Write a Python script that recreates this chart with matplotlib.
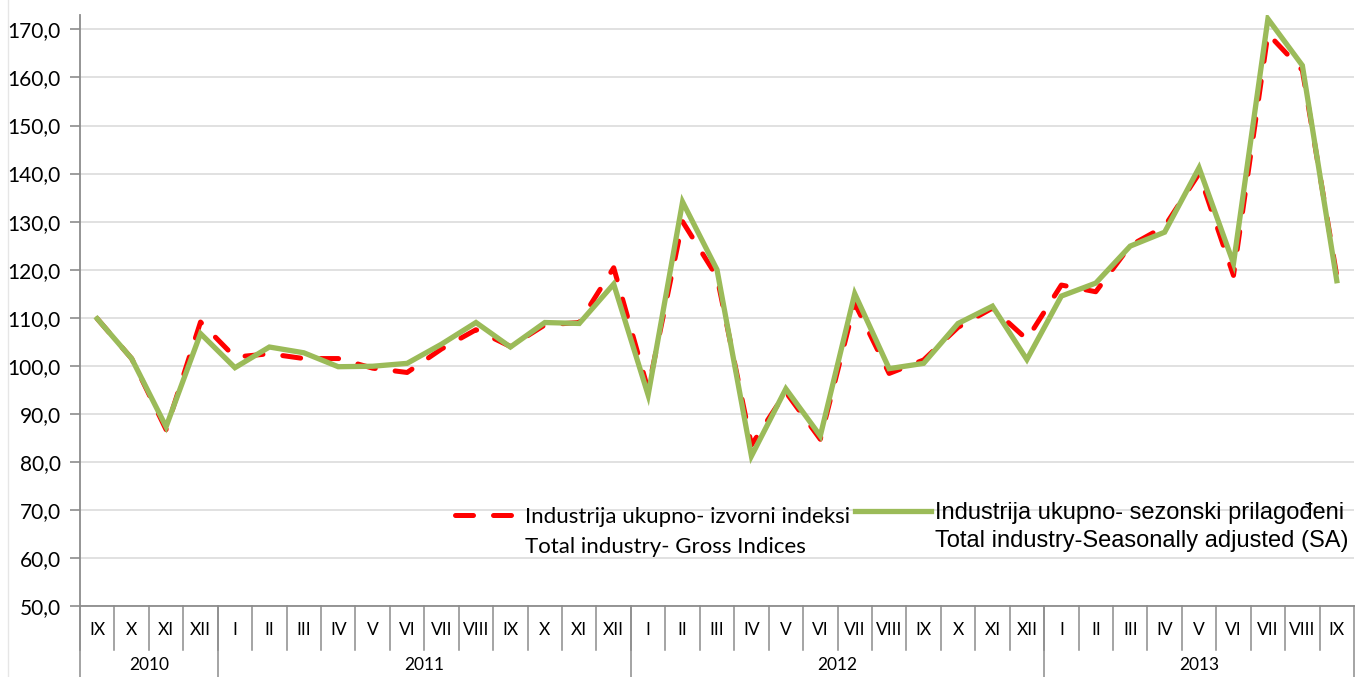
import matplotlib
matplotlib.use('Agg')
import matplotlib.pyplot as plt
import matplotlib.transforms as mtransforms
import numpy as np

# Months from IX 2010 to IX 2013
months = ['IX', 'X', 'XI', 'XII',
          'I', 'II', 'III', 'IV', 'V', 'VI', 'VII', 'VIII', 'IX', 'X', 'XI', 'XII',
          'I', 'II', 'III', 'IV', 'V', 'VI', 'VII', 'VIII', 'IX', 'X', 'XI', 'XII',
          'I', 'II', 'III', 'IV', 'V', 'VI', 'VII', 'VIII', 'IX']
years = ['2010', '2011', '2012', '2013']
months_per_year = [4, 12, 12, 9]

# Gross indices (red dashed)
gross = [109.8, 101.5, 86.7, 109.1,
         101.8, 102.5, 101.5, 101.5, 99.5, 98.6, 103.5, 107.5, 104.0, 108.5, 109.0, 120.4,
         95.0, 130.0, 118.5, 83.5, 94.5, 84.7, 113.0, 98.4, 101.2, 108.0, 112.0, 105.5,
         116.8, 115.4, 125.0, 129.0, 140.0, 118.8, 169.1, 161.5, 118.7]
# Seasonally adjusted (green solid)
sa = [109.8, 101.5, 87.3, 106.7,
      99.6, 103.9, 102.7, 99.8, 99.9, 100.5, 104.5, 109.0, 103.9, 109.0, 108.8, 117.0,
      93.9, 134.1, 120.0, 81.2, 95.2, 85.4, 115.0, 99.4, 100.5, 108.8, 112.4, 101.3,
      114.5, 117.2, 124.9, 127.8, 141.2, 121.3, 172.2, 162.5, 117.7]

gross_label = ['Industrija ukupno- izvorni indeksi', 'Total industry- Gross Indices']
sa_label = ['Industrija ukupno- sezonski prilagođeni', 'Total industry-Seasonally adjusted (SA)']

yticks = np.arange(50, 171, 10)

label_font = ['Lato', 'DejaVu Sans']
arial = ['Liberation Sans', 'DejaVu Sans']
axis_grey = '#8c8c8c'

fig = plt.figure(figsize=(13.56, 6.77), dpi=100)
ax = fig.add_axes([80 / 1356, 71 / 677, 1274 / 1356, 591 / 677])

x = np.arange(len(months))
h1, = ax.plot(x, gross, color='#ff0000', lw=3.6, dashes=(3.6, 4.0),
              dash_capstyle='round', solid_joinstyle='round', zorder=3)
h2, = ax.plot(x, sa, color='#9bbb59', lw=3.8, solid_joinstyle='miter', zorder=4)

ax.set_xlim(-0.5, len(months) - 0.5)
ax.set_ylim(50, 173)
ax.set_yticks(yticks)
ax.set_yticklabels([f'{v:.1f}'.replace('.', ',') for v in yticks],
                   family=label_font, fontsize=15)
ax.tick_params(axis='y', direction='out', length=7, width=1.2, color=axis_grey, pad=7)
ax.grid(axis='y', color='#d9d9d9', lw=1.1)
ax.set_axisbelow(True)

for s in ['top', 'right']:
    ax.spines[s].set_visible(False)
for s in ['left', 'bottom']:
    ax.spines[s].set_color(axis_grey)
    ax.spines[s].set_linewidth(1.3)

# two-level category axis
ax.set_xticks([])
trans = mtransforms.blended_transform_factory(ax.transData, ax.transAxes)
for i, m in enumerate(months):
    ax.text(i, -0.041, m, transform=trans, ha='center', va='center',
            family=label_font, fontsize=12.5)
    ax.plot([i - 0.5, i - 0.5], [0, -0.075], transform=trans, color=axis_grey,
            lw=1.1, clip_on=False)

edges = np.concatenate([[0], np.cumsum(months_per_year)]) - 0.5
for k, yr in enumerate(years):
    ax.text((edges[k] + edges[k + 1]) / 2, -0.1, yr, transform=trans,
            ha='center', va='center', family=label_font, fontsize=12.5)
for e in edges:
    ax.plot([e, e], [0, -0.125], transform=trans, color=axis_grey,
            lw=1.1, clip_on=False)

# legends: handle sits on the first line, second line has an empty handle
blank = plt.Line2D([], [], color='none')
leg1 = ax.legend(handles=[h1, blank], labels=gross_label, loc='upper left',
                 bbox_to_anchor=(455 / 1356, 1 - 507 / 677),
                 bbox_transform=fig.transFigure, frameon=False, handlelength=2.7,
                 handletextpad=0.45, borderpad=0, borderaxespad=0, labelspacing=0.45,
                 prop={'family': label_font, 'size': 16})
ax.add_artist(leg1)
ax.legend(handles=[h2, blank], labels=sa_label, loc='upper left',
          bbox_to_anchor=(855 / 1356, 1 - 502 / 677),
          bbox_transform=fig.transFigure, frameon=False, handlelength=3.2,
          handletextpad=0.2, borderpad=0, borderaxespad=0, labelspacing=0.27,
          prop={'family': arial, 'size': 17})

# faint outer chart border line on the left
fig.add_artist(plt.Line2D([8 / 1356, 8 / 1356], [0, 1], transform=fig.transFigure,
                          color='#e6e6e6', lw=1))

fig.savefig('out.png', dpi=100)
